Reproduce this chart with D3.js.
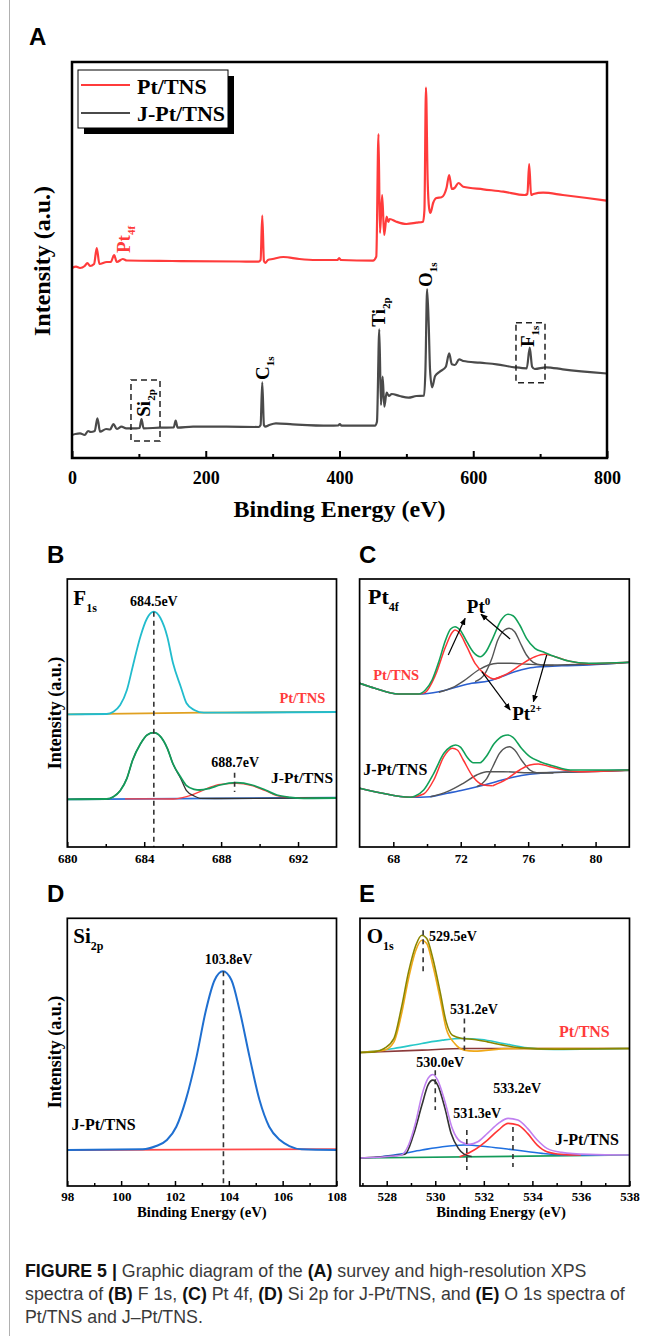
<!DOCTYPE html>
<html><head><meta charset="utf-8">
<script src="https://cdn.jsdelivr.net/npm/d3@7"></script>
<style>body{margin:0;background:#fff}svg{display:block}</style>
</head><body><svg id="c" width="655" height="1336"></svg>
<script>
// ---------------- DATA (binding energy eV, intensity a.u.) ----------------
const surveyTicks = [0, 200, 400, 600, 800];
const surveyMinor = [100, 300, 500, 700];
const surveyPt = [[0,190],[6,191.3],[12,190],[19,192],[23,195],[27,192],[33,194],[37,210],[41,194],[52,196],[58,196],[63,203],[67,196],[76,199],[82,197.5],[150,197],[250,196.5],[279,196.3],[282,198],[284.5,242.3],[287,197],[289,195],[293,198],[300,199],[316,201],[340,199],[365,198],[397,198],[399.5,200],[402,198],[450,197.3],[455,201.3],[458.3,324],[460.5,225],[463.8,263],[466.8,223],[470.5,241.3],[473,236],[475,239],[485,236.3],[500,234],[515,235.3],[525,236.3],[527,248],[529.3,370.3],[531.8,278],[534,250],[536,245],[540,255],[545,260],[552.6,260.7],[560,270],[564,283],[568,269],[572,270],[578,275],[585,271.3],[615,268.7],[645,266.3],[677,263],[681,264],[683.6,294],[686.5,263],[690,264],[704.5,265.3],[734,263],[770,260],[799,257.3]];
const surveyJPt = [[0,23],[5,24],[12,24.7],[19,23],[24,27],[28,26],[34,27],[38,39.7],[42,26.3],[51,29],[57,28.5],[62,34],[67,29],[74,31.3],[81,29.7],[96,29.7],[101,30],[104,39],[107,29.7],[131,30.3],[152,30.5],[155,37.3],[158,30.3],[181,31.3],[231,31.3],[279,31],[282,33],[284.5,75.7],[287,33],[289,31.3],[295,33],[305,34.7],[330,33.7],[385,32.3],[398,32.5],[400.5,34],[403,32.3],[453,32.3],[456,36.3],[459.5,128.7],[462,53],[464.5,81.3],[467,51.3],[470.5,65.3],[474,62],[478,64],[490,62],[503,60.3],[515,62],[526.5,62.3],[528.5,88],[531,169],[533.5,131.3],[535.4,88],[538.4,70.7],[543,82],[550,86.3],[559,91.3],[564,104.7],[568,93.7],[572.5,93],[579,98.7],[585,97],[610,95.3],[635,93.7],[662,90.7],[680,89.7],[684.5,110.3],[688,91.3],[692,89],[709,90.7],[734,88.7],[800,84.5]];

const f1sTicks = [680, 684, 688, 692];
const f1sMinor = [682, 686, 690];
const f1sPtBase = [[680,132.7],[687,134.3],[694,135]];
const f1sPtFit = [[680,132.7],[682.05,133],[682.4,135.3],[682.75,142],[683.1,157],[683.4,180.3],[683.8,210.3],[684.15,228.7],[684.5,235.3],[684.85,228.7],[685.2,210.3],[685.5,183.7],[685.9,160.3],[686.2,143.7],[686.6,137],[687.1,134.3],[694,135]];
const f1sJBase = [[680,47.7],[694,49.3]];
const f1sJPeak1 = [[680,47.7],[682.05,48],[682.4,50.3],[682.75,56.3],[683.1,68.7],[683.4,87],[683.8,103],[684.15,112],[684.5,114.3],[684.85,110.3],[685.2,98.7],[685.5,83],[685.9,68.5],[686.2,56.3],[686.6,51],[686.9,48.7],[688,48.5],[694,49.2]];
const f1sJPeak2 = [[683,48.2],[685.5,48],[686.2,50.3],[686.9,55.3],[687.4,59.7],[687.95,62.7],[688.8,63.7],[689.6,61.3],[690.3,56.3],[690.9,51.3],[691.6,49.3],[694,49]];
const f1sJEnv = [[680,47.7],[682.05,48],[682.4,50.3],[682.75,56.3],[683.1,68.7],[683.4,87],[683.8,103],[684.15,112],[684.5,114.3],[684.85,110.3],[685.2,98.7],[685.5,83],[685.9,69.7],[686.2,61.3],[686.6,57.7],[686.9,57],[687.4,58.7],[687.95,62],[688.8,64.3],[689.6,62],[690.3,57],[690.9,52],[691.6,49.7],[692.3,48.7],[694,49]];

const pt4fTicks = [68, 72, 76, 80];
const pt4fMinor = [70, 74, 78];
const pt4fPtBg = [[66,163.7],[66.9,158.7],[68.3,153],[69.5,153],[70.7,155.3],[71.7,159.7],[72.65,163.7],[73.65,166],[74.4,170.3],[75.2,175.3],[76,178.7],[76.8,180.3],[78,181.3],[79.6,182],[82,184.7]];
const pt4fPtBroad = [[70.7,154.7],[71.5,159.3],[72.25,167],[73.05,177],[73.65,182],[74.2,183.7],[75,183.7],[76,182.7],[77.2,182],[79.6,182.7],[82,184.5]];
const pt4fPtPeak2 = [[72.85,165.3],[73.45,173.7],[73.85,188.7],[74.2,207],[74.6,217],[74.87,218.7],[75.2,215.3],[75.5,205.3],[75.9,192],[76.3,184.7],[76.8,182],[77.5,181.5]];
const pt4fPtRed1 = [[66,163.7],[66.9,158.7],[68.3,153],[69.5,153],[69.9,154.7],[70.5,172],[71.1,200.3],[71.5,214.7],[71.66,217],[71.9,214.7],[72.36,200.3],[72.85,183.7],[73.45,172.7],[74,168],[74.4,170]];
const pt4fPtRed2 = [[74,168],[74.8,173.7],[75.6,182.7],[76.4,190.3],[77,192.7],[77.6,190.3],[78.4,186],[79.6,183.3],[82,184.7]];
const pt4fPtEnv = [[66,163.7],[66.9,158.7],[68.3,153],[69.5,153],[69.9,157],[70.3,167],[70.7,185.3],[71.1,207],[71.4,218],[71.66,220.3],[71.96,217],[72.36,205.3],[72.75,194.7],[73.15,190.3],[73.5,195.3],[73.9,208.7],[74.4,227],[74.8,232.7],[75.1,231.3],[75.5,222],[75.9,208.7],[76.4,198.7],[76.95,194.7],[77.6,190.3],[78.4,186],[79.6,183.7],[82,184.7]];
const pt4fJBg = [[66,58.7],[67.2,54.3],[69,49.7],[70.2,50.3],[71.2,53.7],[72.15,57],[73.15,61],[74.1,65.3],[75.1,69.7],[76.1,72.7],[77.1,74.3],[79.1,75.3],[82,77]];
const pt4fJBroad = [[70.2,50.3],[71.2,55.3],[72.15,63.7],[72.95,72],[73.55,75.3],[74.5,75.3],[76.1,74.3],[78.1,74.7],[80,75.5],[82,76.5]];
const pt4fJPeak2 = [[72.95,60.3],[73.55,68.7],[73.9,80.3],[74.3,93.7],[74.7,99.7],[74.9,100.3],[75.2,97],[75.6,87],[76.1,77],[76.5,74.3],[77.5,74]];
const pt4fJRed1 = [[66,58.7],[67.2,54.3],[69,49.7],[69.8,53],[70.4,67],[71,90.3],[71.5,98.7],[71.8,97],[72.15,87],[72.75,69.7],[73.35,62],[73.9,61.3]];
const pt4fJRed2 = [[73.9,61.3],[74.7,67.7],[75.5,77],[76.1,82],[76.6,83],[77.3,80.3],[78.1,77],[79.1,75.3],[82,77]];
const pt4fJEnv = [[66,58.7],[67.2,54.3],[69,49.7],[69.3,51],[69.8,57],[70.4,73.7],[71,93.7],[71.4,100.3],[71.7,102],[72,99.7],[72.36,90.3],[72.75,84.3],[73.15,84.3],[73.5,90.3],[74,103.7],[74.5,111],[74.8,112],[75.1,109.7],[75.6,98.7],[76.1,90.3],[76.7,85.3],[77.5,81],[78.5,77],[80.1,77],[82,77]];

const si2pTicks = [98, 100, 102, 104, 106, 108];
const si2pMinor = [99, 101, 103, 105, 107];
const si2pBase = [[98,36],[108,37]];
const si2pFit = [[98,36],[100.8,36.7],[101.3,40],[101.7,46],[102.05,59.3],[102.4,86],[102.8,129.3],[103.15,176],[103.47,206],[103.78,215],[104.1,206],[104.4,176],[104.77,129.3],[105.14,86],[105.5,59.3],[105.9,46],[106.25,40],[106.7,36.7],[108,36]];

const o1sTicks = [528, 530, 532, 534, 536, 538];
const o1sMinor = [527, 529, 531, 533, 535, 537];
const o1sPtBase = [[526.9,133.7],[529.45,136],[531.2,137.7],[538,137.7]];
const o1sPtPeak1 = [[526.9,133.7],[527.9,136],[528.3,144.3],[528.6,171],[528.9,207.7],[529.2,236],[529.45,246],[529.65,242.7],[529.9,221],[530.2,187.7],[530.45,157.7],[530.8,142.7],[531.2,136],[531.6,135],[533,137.5],[538,137.7]];
const o1sPtPeak2 = [[526.9,133.7],[527.2,134.3],[528.3,137.7],[529.45,142.7],[530.3,146],[531.1,147.7],[531.9,146.7],[532.8,142.7],[533.8,138.3],[534.9,136.7],[536.3,137],[538,137.7]];
const o1sPtEnv = [[526.9,133.7],[527.5,134.3],[527.9,137.7],[528.3,147.7],[528.6,177.7],[528.9,214.3],[529.2,241],[529.45,251],[529.65,247.7],[529.9,227.7],[530.2,194.3],[530.45,164.3],[530.7,151],[531.1,147.7],[531.6,146.7],[532.15,144.3],[532.8,141],[533.5,138.3],[534.9,137],[538,137.7]];
const o1sJBase = [[526.9,28],[538,31]];
const o1sJPeak1 = [[526.9,28],[528.75,31.7],[529.1,51],[529.45,81],[529.7,101],[529.9,106],[530.1,101],[530.4,77.7],[530.65,52.7],[530.95,37.7],[531.2,31.7],[531.5,29.5]];
const o1sJPeak2 = [[527.5,28.5],[528.3,31],[529.45,36],[530.3,39.3],[531.2,41],[532.15,39.3],[533.3,36],[534.4,32.7],[535.5,31],[537,31]];
const o1sJPeak3 = [[531,29.3],[531.2,31],[531.6,36],[532.15,46],[532.6,56],[533,62.7],[533.4,61],[533.8,52.7],[534.2,41],[534.6,34.3],[535.2,31.7],[536,31]];
const o1sJEnv = [[526.9,28],[528.3,30],[528.6,31],[528.9,41],[529.2,64.3],[529.45,91],[529.7,107.7],[529.9,111.7],[530.1,106],[530.4,84.3],[530.7,57.7],[531.05,44.3],[531.4,41.7],[531.75,44.3],[532.15,52.7],[532.6,62.7],[533,67.7],[533.4,66],[533.8,57.7],[534.2,46],[534.6,37.7],[535.2,33.7],[536.3,31.7],[538,31]];

const seriesNames = ["Pt/TNS", "J-Pt/TNS"];
const captionLines = [
  [["FIGURE 5 | ",1],["Graphic diagram of the ",0],["(A)",1],[" survey and high-resolution XPS",0]],
  [["spectra of ",0],["(B)",1],[" F 1s, ",0],["(C)",1],[" Pt 4f, ",0],["(D)",1],[" Si 2p for J-Pt/TNS, and ",0],["(E)",1],[" O 1s spectra of",0]],
  [["Pt/TNS and J\u2013Pt/TNS.",0]]
];

// ---------------- DRAWING ----------------
const svg = d3.select('#c');
const SERIF = "'Liberation Serif','Times New Roman',serif";
const SANS = "'Liberation Sans',Arial,sans-serif";
const RED = '#ff3b3b';

svg.append('line').attr('x1',9.5).attr('x2',9.5).attr('y1',0).attr('y2',1336).attr('stroke','#b0b0b0').attr('stroke-width',1);

function makePanel(o){
  const xs = d3.scaleLinear().domain(o.xd).range([o.l,o.r]);
  const ys = d3.scaleLinear().domain(o.yd).range([o.b,o.t]);
  const g = svg.append('g');
  return {xs, ys, g, o};
}
function axes(p, major, minor, fs, pad, majLen, minLen, sw){
  const a = d3.axisBottom(p.xs).tickValues(major).tickSize(-majLen).tickPadding(pad).tickFormat(d3.format('d'));
  const ga = p.g.append('g').attr('transform',`translate(0,${p.o.b})`).call(a);
  ga.select('.domain').remove();
  ga.selectAll('line').attr('stroke','#000').attr('stroke-width',sw);
  ga.selectAll('text').attr('font-family',SERIF).attr('font-weight','bold').attr('font-size',fs).attr('fill','#000');
  const m = d3.axisBottom(p.xs).tickValues(minor).tickSize(-minLen).tickFormat('');
  const gm = p.g.append('g').attr('transform',`translate(0,${p.o.b})`).call(m);
  gm.select('.domain').remove();
  gm.selectAll('line').attr('stroke','#000').attr('stroke-width',sw);
}
function frame(p, sw){
  p.g.append('rect').attr('x',p.o.l).attr('y',p.o.t).attr('width',p.o.r-p.o.l).attr('height',p.o.b-p.o.t)
    .attr('fill','none').attr('stroke','#000').attr('stroke-width',sw);
}
function curve(p, data, color, w){
  const ln = d3.line().x(d=>p.xs(d[0])).y(d=>p.ys(d[1])).curve(d3.curveMonotoneX);
  p.g.append('path').attr('d',ln(data)).attr('fill','none').attr('stroke',color).attr('stroke-width',w).attr('stroke-linejoin','round');
}
function vdash(p, x, v0, v1){
  p.g.append('line').attr('x1',p.xs(x)).attr('x2',p.xs(x)).attr('y1',p.ys(v0)).attr('y2',p.ys(v1))
    .attr('stroke','#333').attr('stroke-width',1.6).attr('stroke-dasharray','5,4');
}
function txt(g, x, y, parts, size, color, anchor, family){
  const t = g.append('text').attr('x',x).attr('y',y).attr('font-family',family||SERIF).attr('font-weight','bold')
    .attr('font-size',size).attr('fill',color||'#000').attr('text-anchor',anchor||'start');
  parts.forEach(pt=>{
    const s = t.append('tspan').text(pt[0]);
    if(pt[1]) s.attr('font-size',pt[1]);
    if(pt[2]) s.attr('dy',pt[2]);
  });
  return t;
}
function panelLetter(x,y,l){
  svg.append('text').attr('x',x).attr('y',y).attr('font-family',SANS).attr('font-weight','bold').attr('font-size',24).text(l);
}
function yTitle(x, y, size){
  svg.append('text').attr('transform',`translate(${x},${y}) rotate(-90)`).attr('text-anchor','middle')
    .attr('font-family',SERIF).attr('font-weight','bold').attr('font-size',size).text('Intensity (a.u.)');
}

// ---- Panel A ----
panelLetter(29,45,'A');
const A = makePanel({l:72,r:607,t:62,b:458,xd:[0,800],yd:[0,396]});
axes(A, surveyTicks, surveyMinor, 18, 13, 7, 4, 2);
curve(A, surveyPt, RED, 2.2);
curve(A, surveyJPt, '#4a4a4a', 2.2);
frame(A, 2.5);
svg.append('text').attr('x',(72+607)/2).attr('y',517).attr('text-anchor','middle').attr('font-family',SERIF)
  .attr('font-weight','bold').attr('font-size',24).text('Binding Energy (eV)');
yTitle(50, 261, 24);
// legend
A.g.append('rect').attr('x',84).attr('y',76).attr('width',150).attr('height',58).attr('fill','#000');
A.g.append('rect').attr('x',78).attr('y',70).attr('width',150).attr('height',58).attr('fill','#fff').attr('stroke','#000').attr('stroke-width',1);
[[RED,85,93.5],['#4a4a4a',113,120.5]].forEach((r,i)=>{
  A.g.append('line').attr('x1',81).attr('x2',130).attr('y1',r[1]).attr('y2',r[1]).attr('stroke',r[0]).attr('stroke-width',2);
  txt(A.g,137,r[2],[[seriesNames[i]]],22,'#000');
});
function vlab(p, e, v, main, sub, color){
  const t = p.g.append('text').attr('transform',`translate(${p.xs(e)},${p.ys(v)}) rotate(-90)`)
    .attr('font-family',SERIF).attr('font-weight','bold').attr('font-size',19).attr('fill',color||'#000');
  t.append('tspan').text(main);
  t.append('tspan').text(sub).attr('font-size',11).attr('dy',5);
}
vlab(A, 86.7, 205, 'Pt', '4f', RED);
vlab(A, 116.6, 41.3, 'Si', '2p');
vlab(A, 294.6, 78, 'C', '1s');
vlab(A, 468, 131.3, 'Ti', '2p');
vlab(A, 538.3, 171, 'O', '1s');
vlab(A, 690.8, 111, 'F', '1s');
function dbox(p, e0, e1, v0, v1){
  p.g.append('rect').attr('x',p.xs(e0)).attr('y',p.ys(v1)).attr('width',p.xs(e1)-p.xs(e0)).attr('height',p.ys(v0)-p.ys(v1))
    .attr('fill','none').attr('stroke','#222').attr('stroke-width',1.5).attr('stroke-dasharray','6,4');
}
dbox(A, 88.2, 131.6, 17, 78);
dbox(A, 663.9, 707.3, 75.3, 135.3);

// ---- Panel B ----
panelLetter(47,563,'B');
const B = makePanel({l:67.3,r:336.5,t:579,b:847,xd:[680,694],yd:[0,268]});
axes(B, f1sTicks, f1sMinor, 13, 7, 5, 3, 1.5);
curve(B, f1sPtBase, '#e0a020', 1.8);
curve(B, f1sPtFit, '#22bccd', 1.8);
curve(B, f1sJBase, '#2a6bd6', 1.8);
curve(B, f1sJPeak2, '#ff4040', 1.3);
curve(B, f1sJPeak1, '#333', 1.3);
curve(B, f1sJEnv, '#139b5a', 1.8);
vdash(B, 684.5, 235.3, 0);
vdash(B, 688.7, 74.3, 55);
frame(B, 1.7);
txt(B.g, B.o.l+6, 605, [['F'],['1s',12,7]], 21);
txt(B.g, B.xs(684.5), B.ys(241.3), [['684.5eV']], 14, '#000', 'middle');
txt(B.g, B.xs(691.03), B.ys(143.7), [['Pt/TNS']], 14.5, RED);
txt(B.g, B.xs(688.73), B.ys(80.3), [['688.7eV']], 14, '#000', 'middle');
txt(B.g, B.xs(690.6), B.ys(63.7), [['J-Pt/TNS']], 15.5, '#000');
yTitle(61, 713, 18);

// ---- Panel C ----
panelLetter(359,563,'C');
const C = makePanel({l:359.6,r:629.3,t:579,b:847,xd:[66,82],yd:[0,268]});
axes(C, pt4fTicks, pt4fMinor, 13, 7, 5, 3, 1.5);
curve(C, pt4fPtBg, '#2a5fd0', 1.6);
curve(C, pt4fPtBroad, '#555', 1.4);
curve(C, pt4fPtPeak2, '#555', 1.4);
curve(C, pt4fPtRed1, '#ff3535', 1.5);
curve(C, pt4fPtRed2, '#ff3535', 1.5);
curve(C, pt4fPtEnv, '#12a058', 1.6);
curve(C, pt4fJBg, '#2a5fd0', 1.6);
curve(C, pt4fJBroad, '#555', 1.4);
curve(C, pt4fJPeak2, '#555', 1.4);
curve(C, pt4fJRed1, '#ff3535', 1.5);
curve(C, pt4fJRed2, '#ff3535', 1.5);
curve(C, pt4fJEnv, '#12a058', 1.6);
frame(C, 1.7);
const defs = svg.append('defs');
defs.append('marker').attr('id','ah').attr('viewBox','0 0 10 10').attr('refX',9).attr('refY',5)
  .attr('markerWidth',6).attr('markerHeight',6).attr('orient','auto')
  .append('path').attr('d','M0,1 L10,5 L0,9 Z').attr('fill','#000');
[[71.26,192,72.26,228.7],[74.93,208,73.2,232.7],[73.25,175.3,74.93,137],[77.1,192,76.31,145.3]].forEach(a=>{
  C.g.append('line').attr('x1',C.xs(a[0])).attr('y1',C.ys(a[1])).attr('x2',C.xs(a[2])).attr('y2',C.ys(a[3]))
    .attr('stroke','#000').attr('stroke-width',1.2).attr('marker-end','url(#ah)');
});
txt(C.g, C.o.l+8.5, 604, [['Pt'],['4f',12,7]], 22);
txt(C.g, C.xs(72.36), C.ys(234), [['Pt'],['0',11,-8]], 19);
txt(C.g, C.xs(75.05), C.ys(127), [['Pt'],['2+',11,-8]], 19);
txt(C.g, C.xs(66.81), C.ys(167), [['Pt/TNS']], 14.5, RED);
txt(C.g, C.xs(66.22), C.ys(72), [['J-Pt/TNS']], 16, '#000');

// ---- Panel D ----
panelLetter(47,902,'D');
const D = makePanel({l:67.3,r:336.5,t:918.3,b:1186,xd:[98,108],yd:[0,268]});
axes(D, si2pTicks, si2pMinor, 13, 6, 5, 3, 1.5);
curve(D, si2pBase, '#ff4a4a', 1.8);
curve(D, si2pFit, '#1f6fd0', 2);
vdash(D, 103.8, 215, 0);
frame(D, 1.7);
txt(D.g, D.o.l+6, 943.3, [['Si'],['2p',12,7]], 21);
txt(D.g, D.xs(103.99), D.ys(222.7), [['103.8eV']], 14, '#000', 'middle');
txt(D.g, D.xs(98.16), D.ys(56), [['J-Pt/TNS']], 16, '#000');
yTitle(61, 1052, 18);
svg.append('text').attr('x',(67.3+336.5)/2).attr('y',1217).attr('text-anchor','middle').attr('font-family',SERIF)
  .attr('font-weight','bold').attr('font-size',14.7).text('Binding Energy (eV)');

// ---- Panel E ----
panelLetter(359,902,'E');
const E = makePanel({l:360,r:629.5,t:918.3,b:1186,xd:[526.9,538],yd:[0,268]});
axes(E, o1sTicks, o1sMinor, 13, 6, 5, 3, 1.5);
curve(E, o1sPtBase, '#8b3a3a', 1.6);
curve(E, o1sPtPeak2, '#28c8c8', 1.6);
curve(E, o1sPtPeak1, '#f0a818', 1.6);
curve(E, o1sPtEnv, '#8a8600', 1.6);
curve(E, o1sJBase, '#139b5a', 1.6);
curve(E, o1sJPeak2, '#1f70e0', 1.6);
curve(E, o1sJPeak3, '#ff3535', 1.6);
curve(E, o1sJPeak1, '#333', 1.6);
curve(E, o1sJEnv, '#c080f0', 1.6);
vdash(E, 529.5, 256, 214.3);
vdash(E, 531.2, 167.7, 136);
vdash(E, 530.0, 116, 76);
vdash(E, 531.3, 56, 16);
vdash(E, 533.2, 59, 19);
frame(E, 1.7);
txt(E.g, E.o.l+6.7, 943.3, [['O'],['1s',12,7]], 21);
txt(E.g, E.xs(529.74), E.ys(245), [['529.5eV']], 14, '#000');
txt(E.g, E.xs(530.61), E.ys(171.7), [['531.2eV']], 14, '#000');
txt(E.g, E.xs(535.1), E.ys(149.3), [['Pt/TNS']], 16, RED);
txt(E.g, E.xs(530.2), E.ys(119.3), [['530.0eV']], 14, '#000', 'middle');
txt(E.g, E.xs(530.74), E.ys(67.7), [['531.3eV']], 14, '#000');
txt(E.g, E.xs(532.39), E.ys(92.7), [['533.2eV']], 14, '#000');
txt(E.g, E.xs(534.93), E.ys(41), [['J-Pt/TNS']], 16, '#000');
svg.append('text').attr('x',501).attr('y',1217).attr('text-anchor','middle').attr('font-family',SERIF)
  .attr('font-weight','bold').attr('font-size',14.7).text('Binding Energy (eV)');

// ---- Caption ----
const capY = [1276.5, 1300, 1323.3];
captionLines.forEach((line,i)=>{
  const t = svg.append('text').attr('x',25).attr('y',capY[i]).attr('font-family',SANS).attr('font-size',17.8).attr('fill','#3a3a3a');
  line.forEach(s=>{
    const sp = t.append('tspan').text(s[0]);
    if(s[1]) sp.attr('font-weight','bold').attr('fill','#111');
  });
});
</script></body></html>
